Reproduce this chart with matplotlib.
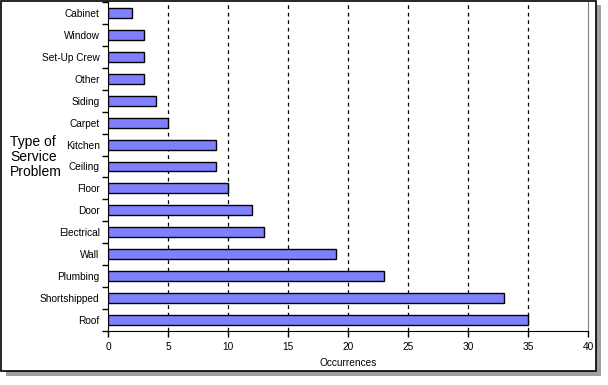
import matplotlib
matplotlib.use("Agg")
import matplotlib.pyplot as plt
from matplotlib.patches import Rectangle
import numpy as np

categories = ["Roof", "Shortshipped", "Plumbing", "Wall", "Electrical", "Door",
              "Floor", "Ceiling", "Kitchen", "Carpet", "Siding", "Other",
              "Set-Up Crew", "Window", "Cabinet"]
occurrences = [35, 33, 23, 19, 13, 12, 10, 9, 9, 5, 4, 3, 3, 3, 2]
x_ticks = [0, 5, 10, 15, 20, 25, 30, 35, 40]

plt.rcParams['font.family'] = ['Liberation Sans', 'DejaVu Sans']

fig = plt.figure(figsize=(6.08, 3.85), dpi=100)

# drop shadow and outer frame
fig.patches.append(Rectangle((6 / 608, 0.0364 - 5 / 385), 595 / 608, 1 - 0.0364,
                             transform=fig.transFigure, facecolor="#a0a0a0",
                             edgecolor="none", zorder=-2))
fig.patches.append(Rectangle((1 / 608, 0.0364), 595 / 608, 1 - 0.0364 - 1 / 385,
                             transform=fig.transFigure, facecolor="white",
                             edgecolor="black", linewidth=1.2, zorder=-1))

ax = fig.add_axes([108 / 608, 1 - 331 / 385, 480 / 608, 329 / 385])
ax.set_zorder(2)
ax.set_facecolor("none")
y = np.arange(len(categories))
ax.barh(y, occurrences, height=0.45, color="#8080ff", edgecolor="black",
        linewidth=1, zorder=3)

ax.set_xlim(0, 40)
ax.set_ylim(-0.5, len(categories) - 0.5)
ax.set_xticks(x_ticks)
ax.set_xticklabels([str(t) for t in x_ticks], fontsize=7.3)
ax.set_yticks(y)
ax.set_yticklabels(categories, fontsize=7.3)
ax.set_yticks(np.arange(-0.5, len(categories), 1), minor=True)
ax.tick_params(axis="y", which="major", length=0, pad=6)
ax.tick_params(axis="y", which="minor", length=4, width=1, direction="out")
ax.tick_params(axis="x", length=4, width=1, direction="out", pad=4)

for t in x_ticks[1:-1]:
    ax.axvline(t, color="black", linestyle=(0, (3, 3)), linewidth=0.9, zorder=1)

ax.spines["left"].set_color("black")
ax.spines["bottom"].set_color("black")
ax.spines["right"].set_color("#808080")
ax.spines["top"].set_visible(False)
ax.spines["right"].set_linewidth(0.8)

ax.set_xlabel("Occurrences", fontsize=7.3, labelpad=4)
fig.text(10 / 608, 1 - 157 / 385, "Type of\nService\nProblem", fontsize=10,
         ha="left", va="center", linespacing=1.1)

fig.savefig("out.png", dpi=100)
